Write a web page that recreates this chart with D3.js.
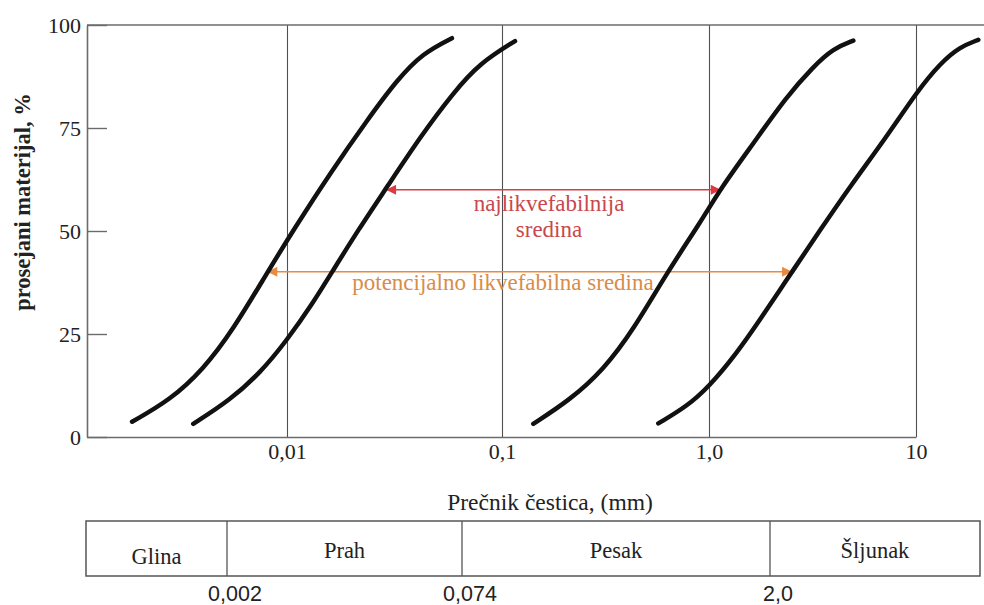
<!DOCTYPE html>
<html>
<head>
<meta charset="utf-8">
<script src="https://cdn.jsdelivr.net/npm/d3@7"></script>
<style>
  body { margin: 0; background: #fff; }
  text { font-family: "Liberation Serif", "Times New Roman", serif; }
</style>
</head>
<body>
<div id="chart"></div>
<script>
// grain size curves: [diameter mm, % passing]
let curveA = [[0.0019, 3.7], [0.00286, 9.0], [0.00406, 16.3], [0.00561, 26.0], [0.00807, 39.8], [0.0107, 50.2],
  [0.0159, 64.1], [0.0236, 76.9], [0.0325, 86.7], [0.0429, 93.2], [0.0585, 96.8]]
let curveB = [[0.00366, 3.2], [0.00543, 9.0], [0.00749, 15.5], [0.0100, 23.5], [0.0132, 32.5], [0.0164, 40.5],
  [0.0214, 50.2], [0.0292, 60.7], [0.0416, 72.8], [0.0592, 83.5], [0.079, 90.8], [0.1156, 96.1]]
let curveC = [[0.1416, 3.2], [0.213, 9.0], [0.309, 16.3], [0.431, 26.0], [0.625, 39.8], [0.925, 52.7],
  [1.14, 60.4], [1.64, 71.3], [2.37, 82.6], [3.19, 89.9], [3.99, 94.3], [4.98, 96.2]]
let curveD = [[0.569, 3.3], [0.78, 7.4], [1.0, 12.2], [1.36, 20.3], [1.76, 28.4], [2.2, 35.7], [2.52, 40.1],
  [3.44, 50.2], [4.8, 60.8], [7.22, 72.9], [10.1, 83.8], [13.1, 90.7], [16.3, 94.7], [20.0, 96.4]]
let curves = [curveA, curveB, curveC, curveD]

let xTicks = [0.01, 0.1, 1, 10]
let xTickLabels = ["0,01", "0,1", "1,0", "10"]
let yTicks = [0, 25, 50, 75, 100]

// arrows: [percent, from diameter, to diameter]
let mostLiquefiable = [60, 0.0289, 1.14]
let potentiallyLiquefiable = [40.1, 0.0081, 2.52]

let soilClasses = ["Glina", "Prah", "Pesak", "Šljunak"]
let classBounds = [0.002, 0.074, 2.0]
let classBoundLabels = ["0,002", "0,074", "2,0"]

let W = 984, H = 605
let margin = { top: 25, left: 87 },
  plotBottom = 437

let svg = d3.select("#chart")
  .append("svg")
  .attr("width", W)
  .attr("height", H)

// decades are not quite equal in the source drawing, so a piecewise log scale
let x = d3.scaleLog()
  .domain([0.001172, 0.01, 0.1, 1, 10])
  .range([margin.left, 287, 502, 709, 916])
let y = d3.scaleLinear()
  .domain([0, 100])
  .range([plotBottom, margin.top])

let frameColor = "#6b6b6b"

// x axis with grid lines
let xAxis = d3.axisBottom(x)
  .tickValues(xTicks)
  .tickFormat((d, i) => xTickLabels[i])
  .tickSizeInner(-(plotBottom - margin.top))
  .tickSizeOuter(0)
  .tickPadding(6)
let gx = svg.append("g")
  .attr("transform", "translate(0," + plotBottom + ")")
  .call(xAxis)
gx.select(".domain").attr("stroke", frameColor).attr("stroke-width", 1.6)
gx.selectAll(".tick line").attr("stroke", "#505050").attr("stroke-width", 1.1)
gx.selectAll(".tick text")
  .attr("font-size", 22)
  .attr("fill", "#222")
  .style("font-family", "'Liberation Serif', serif")

// y axis, ticks pointing inward
let yAxis = d3.axisLeft(y)
  .tickValues(yTicks)
  .tickSizeInner(-20)
  .tickSizeOuter(0)
  .tickPadding(6)
let gy = svg.append("g")
  .attr("transform", "translate(" + margin.left + ",0)")
  .call(yAxis)
gy.select(".domain").attr("stroke", frameColor).attr("stroke-width", 1.6)
gy.selectAll(".tick line").attr("stroke", frameColor).attr("stroke-width", 1.4)
gy.selectAll(".tick text")
  .attr("font-size", 22)
  .attr("fill", "#222")
  .style("font-family", "'Liberation Serif', serif")

// top frame line runs to the page edge
svg.append("line")
  .attr("x1", margin.left).attr("x2", W)
  .attr("y1", y(100)).attr("y2", y(100))
  .attr("stroke", frameColor)
  .attr("stroke-width", 1.6)

// axis titles
svg.append("text")
  .attr("transform", "translate(30," + 202 + ") rotate(-90)")
  .attr("text-anchor", "middle")
  .attr("font-size", 22.5)
  .attr("font-weight", "bold")
  .attr("fill", "#222")
  .text("prosejani materijal, %")

svg.append("text")
  .attr("x", 550)
  .attr("y", 510)
  .attr("text-anchor", "middle")
  .attr("font-size", 23.5)
  .attr("fill", "#222")
  .text("Prečnik čestica, (mm)")

// arrow markers
let defs = svg.append("defs")
function marker(id, color) {
  defs.append("marker")
    .attr("id", id)
    .attr("viewBox", "0 0 10 10")
    .attr("refX", 10)
    .attr("refY", 5)
    .attr("markerWidth", 12)
    .attr("markerHeight", 10)
    .attr("markerUnits", "userSpaceOnUse")
    .attr("orient", "auto-start-reverse")
    .append("path")
    .attr("d", "M0,0 L10,5 L0,10 z")
    .attr("fill", color)
}
marker("head-red", "#dc3a40")
marker("head-orange", "#e98a3f")

function arrow(a, color, id) {
  svg.append("line")
    .attr("x1", x(a[1])).attr("x2", x(a[2]))
    .attr("y1", y(a[0])).attr("y2", y(a[0]))
    .attr("stroke", color)
    .attr("stroke-width", 1.4)
    .attr("marker-start", "url(#" + id + ")")
    .attr("marker-end", "url(#" + id + ")")
}
arrow(mostLiquefiable, "#dc3a40", "head-red")
arrow(potentiallyLiquefiable, "#e98a3f", "head-orange")

let red = svg.append("text")
  .attr("text-anchor", "middle")
  .attr("font-size", 23)
  .attr("fill", "#c9474c")
red.append("tspan").attr("x", 549).attr("y", 211).text("najlikvefabilnija")
red.append("tspan").attr("x", 549).attr("y", 237).text("sredina")

svg.append("text")
  .attr("x", 503)
  .attr("y", 290)
  .attr("text-anchor", "middle")
  .attr("font-size", 23)
  .attr("fill", "#d98c48")
  .text("potencijalno likvefabilna sredina")

// gradation curves
let line = d3.line()
  .x(d => x(d[0]))
  .y(d => y(d[1]))
  .curve(d3.curveBasis)
svg.selectAll(".grad")
  .data(curves)
  .enter()
  .append("path")
  .attr("class", "grad")
  .attr("d", line)
  .attr("fill", "none")
  .attr("stroke", "#111")
  .attr("stroke-width", 4.5)
  .attr("stroke-linecap", "round")

// soil class table (schematic, not on the axis scale)
let tableTop = 521, tableBottom = 576, tableLeft = 86, tableRight = 980
let tx = d3.scaleLog()
  .domain(classBounds)
  .range([227, 462, 770])
let edges = [tableLeft].concat(classBounds.map(tx), [tableRight])

svg.append("rect")
  .attr("x", tableLeft).attr("y", tableTop)
  .attr("width", tableRight - tableLeft)
  .attr("height", tableBottom - tableTop)
  .attr("fill", "none")
  .attr("stroke", "#555")
  .attr("stroke-width", 1.5)

svg.selectAll(".divider")
  .data(classBounds)
  .enter()
  .append("line")
  .attr("x1", d => tx(d)).attr("x2", d => tx(d))
  .attr("y1", tableTop).attr("y2", tableBottom)
  .attr("stroke", "#555")
  .attr("stroke-width", 1.3)

svg.selectAll(".cls")
  .data(soilClasses)
  .enter()
  .append("text")
  .attr("x", (d, i) => (edges[i] + edges[i + 1]) / 2)
  .attr("y", (d, i) => i == 0 ? 564 : 558)
  .attr("text-anchor", "middle")
  .attr("font-size", 22.5)
  .attr("fill", "#222")
  .text(d => d)

svg.selectAll(".bound")
  .data(classBounds)
  .enter()
  .append("text")
  .attr("x", d => tx(d) + 8)
  .attr("y", 601)
  .attr("text-anchor", "middle")
  .attr("font-size", 21.5)
  .attr("fill", "#222")
  .style("font-family", "'Liberation Sans', Arial, sans-serif")
  .text((d, i) => classBoundLabels[i])
</script>
</body>
</html>
